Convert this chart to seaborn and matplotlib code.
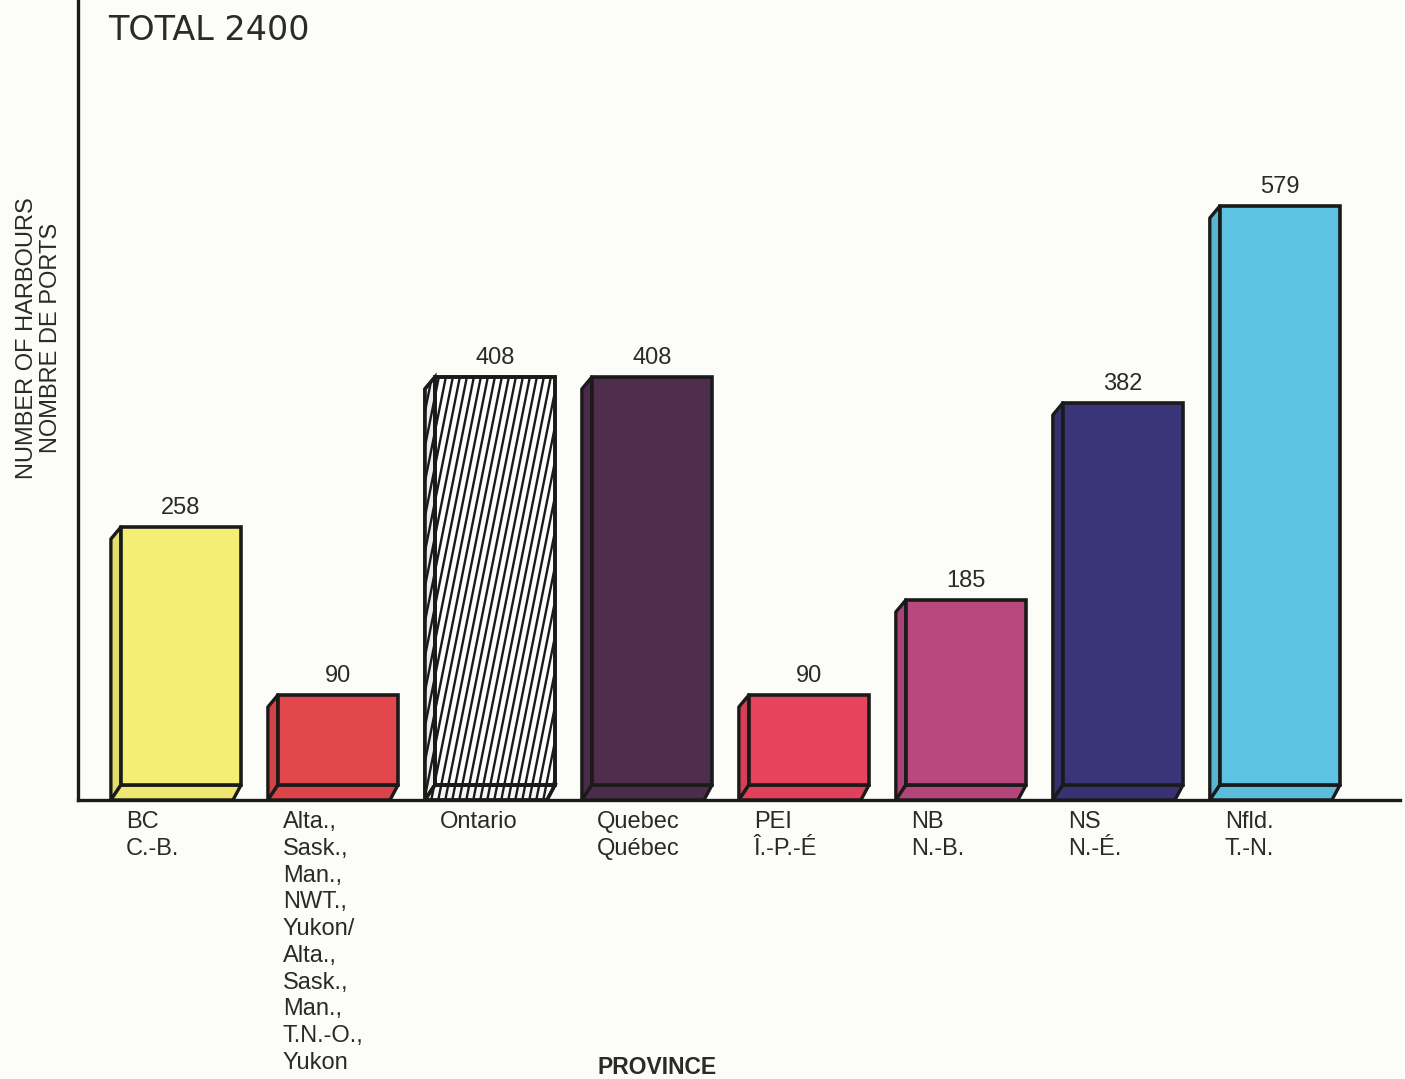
import numpy as np
import pandas as pd
import seaborn as sns
import matplotlib.pyplot as plt
from matplotlib.patches import Polygon
from matplotlib.collections import LineCollection
from matplotlib import colors as mcolors

# --- data -------------------------------------------------------------
provinces = [
    "BC\nC.-B.",
    "Alta.,\nSask.,\nMan.,\nNWT.,\nYukon/\nAlta.,\nSask.,\nMan.,\nT.N.-O.,\nYukon",
    "Ontario",
    "Quebec\nQuébec",
    "PEI\nÎ.-P.-É",
    "NB\nN.-B.",
    "NS\nN.-É.",
    "Nfld.\nT.-N.",
]
harbours = [258, 90, 408, 408, 90, 185, 382, 579]
total_label = "TOTAL 2400"
y_title = "NUMBER OF HARBOURS\nNOMBRE DE PORTS"
x_title = "PROVINCE"

# --- styling ----------------------------------------------------------
bar_colors = ["#f4ef74", "#e2474b", "#ffffff", "#4e2d4d",
              "#e6435d", "#b8487e", "#3a3479", "#5ec2e2"]
hatched = [False, False, True, False, False, False, False, False]
ink = "#1a1a1a"
text_col = "#2a2a2a"
paper = "#fcfcf9"

W_PX, H_PX, DPI = 1405, 1079, 100
FRONT_W = 0.765          # front face width, in category units
DEPTH_Y = 15             # oblique depth, vertical (data units = px)
DEPTH_X = 0.064          # oblique depth, horizontal (category units)

sns.set_theme(style="white")
plt.rcParams["font.family"] = ["Liberation Sans", "DejaVu Sans"]

fig = plt.figure(figsize=(W_PX / DPI, H_PX / DPI), dpi=DPI, facecolor=paper)
ax_l, ax_b, ax_w, ax_h = 78 / W_PX, 279 / H_PX, 1322 / W_PX, 800 / H_PX
ax = fig.add_axes([ax_l, ax_b, ax_w, ax_h])
ax.set_facecolor(paper)

df = pd.DataFrame({"province": provinces, "harbours": harbours})
sns.barplot(data=df, x="province", y="harbours", hue="province",
            palette=bar_colors, saturation=1, width=FRONT_W,
            bottom=DEPTH_Y, edgecolor=ink, linewidth=2.6,
            legend=False, ax=ax, zorder=3)

xmin, xmax = -0.656, 7.765
ax.set_xlim(xmin, xmax)
ax.set_ylim(0, 800)

px_per_x = ax_w * W_PX / (xmax - xmin)
px_per_y = ax_h * H_PX / 800


def darker(c, f):
    r, g, b = mcolors.to_rgb(c)
    return (r * f, g * f, b * f)


bars = sorted(ax.patches, key=lambda p: p.get_x())
for i, p in enumerate(bars):
    x0, y0 = p.get_x(), p.get_y()
    w, h = p.get_width(), p.get_height()
    top = y0 + h
    col = bar_colors[i]
    side = Polygon([(x0, top), (x0 - DEPTH_X, top - 12),
                    (x0 - DEPTH_X, 0), (x0, y0)], closed=True,
                   facecolor=darker(col, 0.93), edgecolor=ink,
                   linewidth=2.4, joinstyle="round", zorder=2.6)
    base = Polygon([(x0, y0), (x0 + w, y0), (x0 + w - DEPTH_X * 0.8, 0),
                    (x0 - DEPTH_X, 0)], closed=True,
                   facecolor=darker(col, 0.97), edgecolor=ink,
                   linewidth=2.4, joinstyle="round", zorder=2.6)
    ax.add_patch(side)
    ax.add_patch(base)

    if hatched[i]:
        # steep diagonal hatching, clipped to each face of the box
        step = 7.0 / px_per_x
        tilt = (1 / 5.0) * px_per_y / px_per_x
        starts = np.arange(x0 - DEPTH_X - top * tilt, x0 + w + step, step)
        segs = [[(s, 0), (s + top * tilt, top)] for s in starts]
        for face in (p, side, base):
            lc = LineCollection(segs, colors=ink, linewidths=1.7, zorder=3.2)
            ax.add_collection(lc)
            lc.set_clip_path(face)
        # redraw outlines above the hatching
        for face in (side, base):
            ax.add_patch(Polygon(face.get_xy(), closed=True, fill=False,
                                 edgecolor=ink, linewidth=2.4, zorder=3.4))
        ax.add_patch(plt.Rectangle((x0, y0), w, h, fill=False,
                                   edgecolor=ink, linewidth=2.6, zorder=3.4))

    ax.text(x0 + w / 2, top + 8, f"{harbours[i]}", ha="center", va="bottom",
            fontsize=17, color=text_col, zorder=4)

# category labels, left aligned under each bar's front face
ax.set_xticks([b.get_x() + 0.032 for b in bars])
ax.set_xticklabels(provinces, ha="left", va="top", fontsize=17,
                   color=text_col, linespacing=1.28)
ax.tick_params(axis="x", length=0, pad=8)
ax.set_yticks([])
ax.set_xlabel("")
ax.set_ylabel("")

for s in ("top", "right"):
    ax.spines[s].set_visible(False)
for s in ("left", "bottom"):
    ax.spines[s].set_visible(True)
    ax.spines[s].set_color(ink)
    ax.spines[s].set_linewidth(2.4)
    ax.spines[s].set_zorder(5)

fig.text(108 / W_PX, 1 - 14 / H_PX, total_label, ha="left", va="top",
         fontsize=24, color=text_col, family=["DejaVu Sans"])
fig.text(39 / W_PX, 1 - 338 / H_PX, y_title, rotation=90, ha="center",
         va="center", fontsize=17, color=text_col, linespacing=1.1,
         multialignment="center")
fig.text(657 / W_PX, 1 - 1068 / H_PX, x_title, ha="center", va="center",
         fontsize=16.5, fontweight="bold", color=text_col)

fig.savefig("out.png", dpi=DPI, facecolor=paper)
